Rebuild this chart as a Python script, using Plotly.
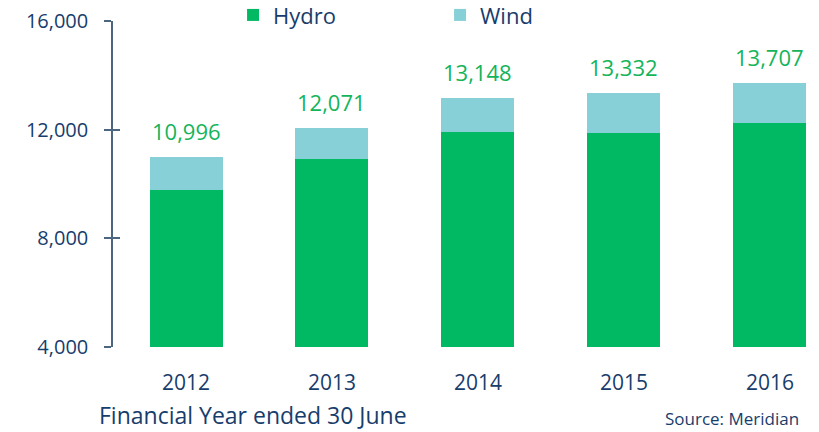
import plotly.graph_objects as go

years = ["2012", "2013", "2014", "2015", "2016"]
hydro = [9780, 10920, 11900, 11880, 12240]
totals = [10996, 12071, 13148, 13332, 13707]
wind = [t - h for t, h in zip(totals, hydro)]
total_labels = ["10,996", "12,071", "13,148", "13,332", "13,707"]
y_ticks = [4000, 8000, 12000, 16000]
y_tick_labels = ["4,000", "8,000", "12,000", "16,000"]

GREEN = "#00b962"
WIND = "#88d0d7"
NAVY = "#173d6c"
AXIS = "#4d6680"
FONT = "Open Sans"

fig = go.Figure()
fig.add_bar(x=years, y=hydro, name="Hydro", marker=dict(color=GREEN, line=dict(width=0)), width=0.5)
fig.add_bar(x=years, y=wind, name="Wind", marker=dict(color=WIND, line=dict(width=0)), width=0.5)

for i, (t, lab) in enumerate(zip(totals, total_labels)):
    fig.add_annotation(x=i, y=t, text=lab, showarrow=False, yanchor="bottom", yshift=9,
                       font=dict(family=FONT, size=22, color="#14b45a"))

fig.add_annotation(xref="paper", yref="paper", x=-0.023, y=-0.208, xanchor="left", yanchor="middle",
                   text="Financial Year ended 30 June", showarrow=False,
                   font=dict(family=FONT, size=23, color=NAVY))
fig.add_annotation(xref="paper", yref="paper", x=0.985, y=-0.218, xanchor="right", yanchor="middle",
                   text="Source: Meridian", showarrow=False,
                   font=dict(family=FONT, size=17, color=NAVY))

fig.update_layout(
    width=819, height=432,
    margin=dict(l=113, r=8, t=21, b=85, autoexpand=False),
    barmode="stack",
    plot_bgcolor="white", paper_bgcolor="white",
    font=dict(family=FONT, color=NAVY, size=20),
    showlegend=True,
    legend=dict(orientation="h", traceorder="normal", x=0.172, y=0.965, xanchor="left", yanchor="middle",
                yref="container",
                entrywidth=162, entrywidthmode="pixels",
                font=dict(family=FONT, size=22, color=NAVY), bgcolor="rgba(0,0,0,0)"),
    xaxis=dict(type="category", range=[-0.5, 4.281], showline=False, showgrid=False, automargin=False,
               ticks="", ticklabelstandoff=21, tickfont=dict(family=FONT, size=21, color=NAVY)),
    yaxis=dict(range=[4000, 16000], tickvals=y_ticks, ticktext=y_tick_labels, automargin=False,
               showline=True, linecolor=AXIS, linewidth=1.5, showgrid=False, zeroline=False,
               ticks="outside", ticklen=7, tickwidth=1.5, tickcolor=AXIS,
               ticklabelstandoff=12, tickfont=dict(family=FONT, size=20, color=NAVY)),
    yaxis2=dict(overlaying="y", matches="y", side="left", range=[4000, 16000], tickvals=y_ticks,
                showticklabels=False, showline=False, showgrid=False, zeroline=False, automargin=False,
                ticks="inside", ticklen=7, tickwidth=1.5, tickcolor=AXIS),
)
fig.add_scatter(x=[years[0]], y=[None], yaxis="y2", showlegend=False, hoverinfo="skip")

fig.write_html("out.html", config={"displayModeBar": False},
               post_script="document.body.style.margin='0';document.body.style.padding='0';")
